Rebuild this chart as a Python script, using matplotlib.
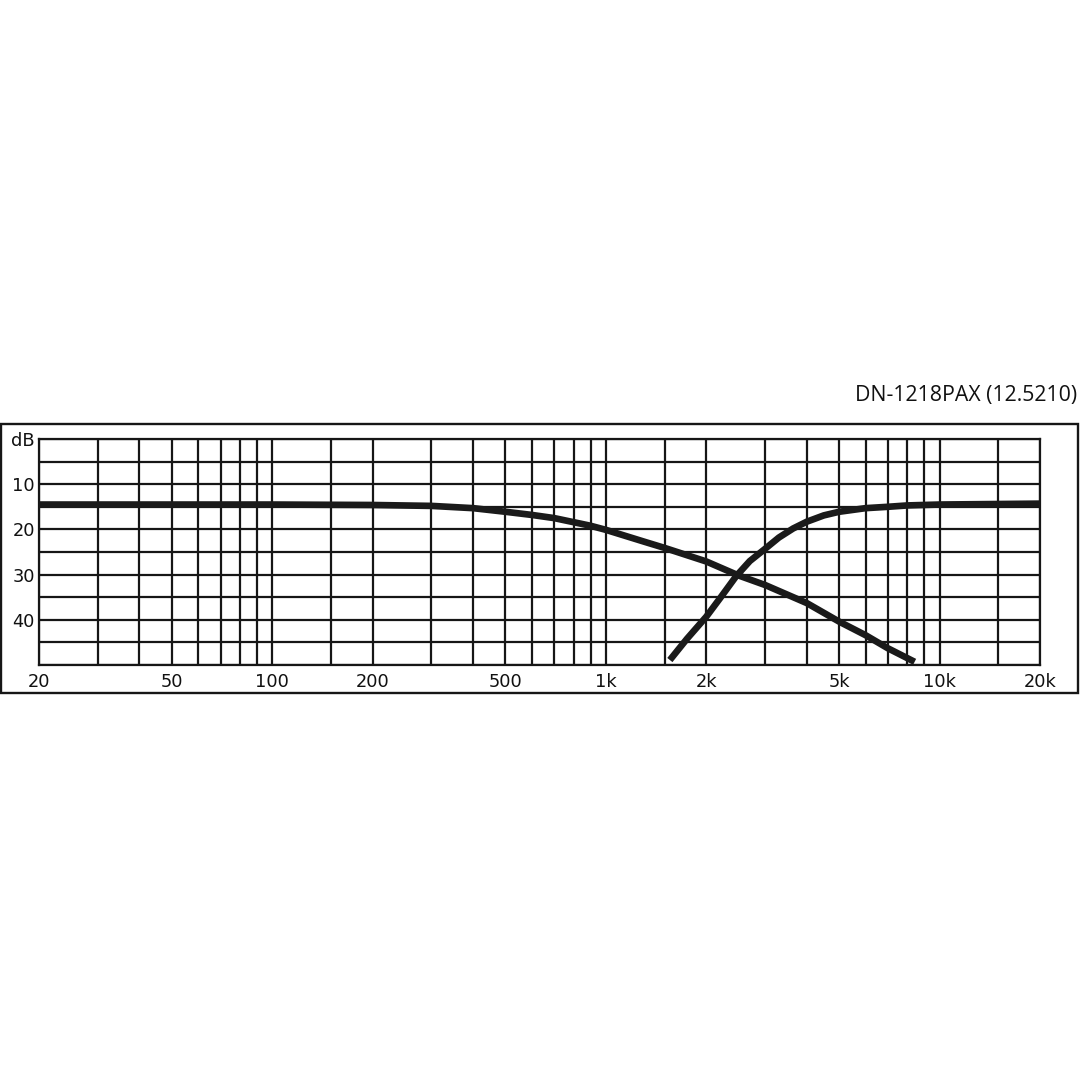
import matplotlib.pyplot as plt
from matplotlib.patches import Rectangle

# crossover response (dB below reference, axis runs downward)
lp_freq = [20, 50, 100, 200, 300, 400, 500, 600, 700, 800, 900, 1000,
           1300, 1500, 2000, 2500, 3000, 4000, 5000, 6000, 7000, 8420]
lp_db = [14.5, 14.5, 14.5, 14.6, 14.8, 15.3, 16.1, 16.8, 17.5, 18.4, 19.2, 20.1,
         22.7, 24.1, 27.1, 30.2, 32.3, 36.3, 40.4, 43.4, 46.3, 49.3]

hp_freq = [1555, 1750, 2000, 2200, 2460, 2700, 3000, 3300, 3640, 4000, 4500,
           5000, 6000, 7000, 8000, 10000, 20000]
hp_db = [48.9, 44.2, 39.3, 35.2, 30.3, 27.0, 24.3, 21.8, 19.8, 18.3, 16.9,
         16.1, 15.3, 15.0, 14.7, 14.5, 14.3]

grid_freqs = [20, 30, 40, 50, 60, 70, 80, 90, 100, 150,
              200, 300, 400, 500, 600, 700, 800, 900, 1000, 1500,
              2000, 3000, 4000, 5000, 6000, 7000, 8000, 9000, 10000, 15000, 20000]
grid_db = [0, 5, 10, 15, 20, 25, 30, 35, 40, 45, 50]

xtick_vals = [20, 50, 100, 200, 500, 1000, 2000, 5000, 10000, 20000]
xtick_labels = ['20', '50', '100', '200', '500', '1k', '2k', '5k', '10k', '20k']
ytick_vals = [0, 10, 20, 30, 40]
ytick_labels = ['dB', '10', '20', '30', '40']

W = 1080.0
fig = plt.figure(figsize=(10.8, 10.8), dpi=100)
ax = fig.add_axes((39/W, 1-665/W, 1001/W, 226/W))

ax.set_xscale('log')
ax.set_xlim(20, 20000)
ax.set_ylim(50, 0)

for f in grid_freqs:
    ax.axvline(f, color='#161616', lw=1.6, zorder=1)
for d in grid_db:
    ax.axhline(d, color='#161616', lw=1.6, zorder=1)

ax.plot(lp_freq, lp_db, color='#1a1a1a', lw=4.8, solid_capstyle='butt',
        solid_joinstyle='round', zorder=3)
ax.plot(hp_freq, hp_db, color='#1a1a1a', lw=4.8, solid_capstyle='butt',
        solid_joinstyle='round', zorder=3)

ax.set_xticks(xtick_vals)
ax.set_xticklabels(xtick_labels)
ax.set_xticks([], minor=True)
ax.set_yticks(ytick_vals)
ax.set_yticklabels(ytick_labels)
ax.set_yticks([], minor=True)
ax.tick_params(axis='both', length=0, labelsize=12.8, colors='#111111')
ax.tick_params(axis='x', pad=6)
ax.tick_params(axis='y', pad=3)
for s in ax.spines.values():
    s.set_linewidth(1.6)
    s.set_color('#161616')

# outer frame
fig.patches.append(Rectangle((1/W, 1-693/W), 1077/W, 269/W, transform=fig.transFigure,
                             fill=False, edgecolor='#161616', lw=1.7))

fig.text(1077/W, 1-396/W, 'DN-1218PAX (12.5210)', ha='right', va='center',
         fontsize=15.3, family=['Open Sans', 'DejaVu Sans'], color='#111111')

fig.savefig('out.png', dpi=100, facecolor='white')
